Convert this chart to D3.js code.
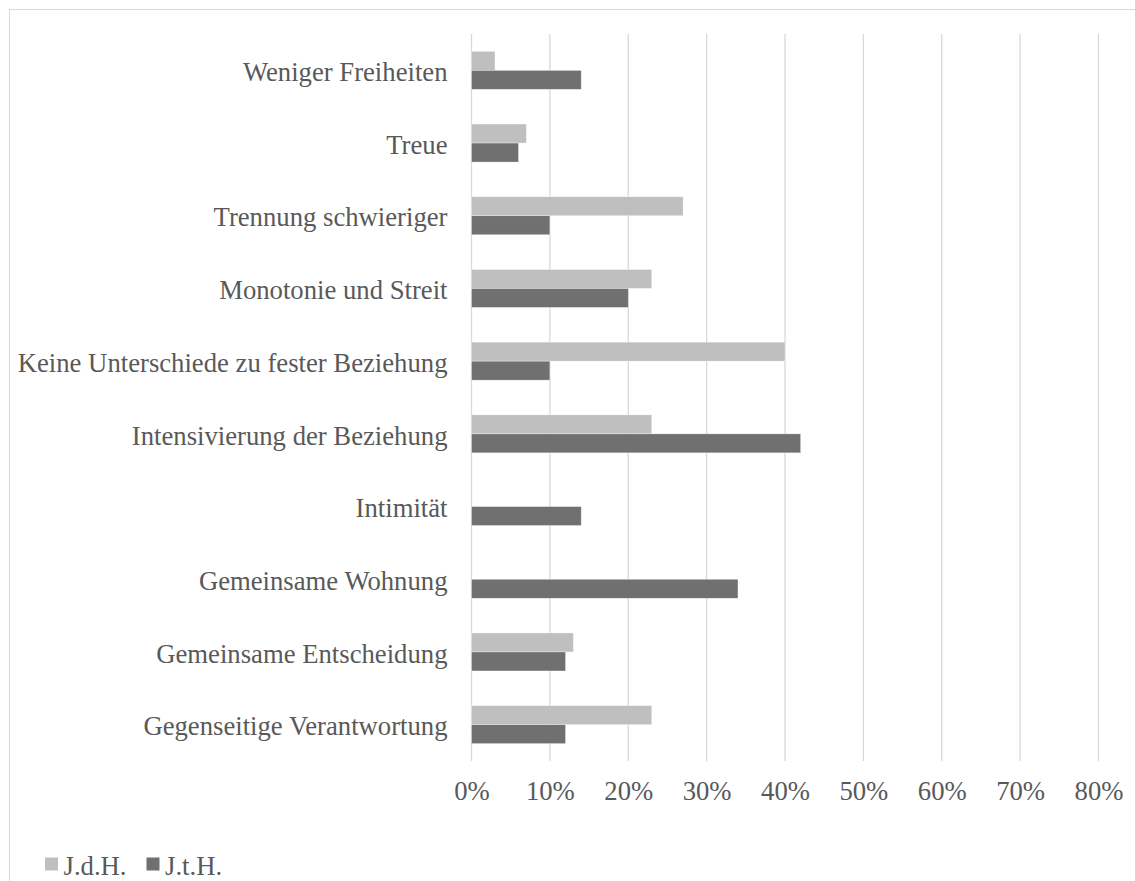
<!DOCTYPE html>
<html>
<head>
<meta charset="utf-8">
<script src="https://cdn.jsdelivr.net/npm/d3@7"></script>
<style>
  html, body { margin: 0; padding: 0; background: #fff; }
  svg { display: block; }
  text { font-family: "Liberation Serif", "Times New Roman", serif; fill: #595959; }
</style>
</head>
<body>
<svg id="chart" width="1135" height="881"></svg>
<script>
const categories = [
  "Weniger Freiheiten",
  "Treue",
  "Trennung schwieriger",
  "Monotonie und Streit",
  "Keine Unterschiede zu fester Beziehung",
  "Intensivierung der Beziehung",
  "Intimität",
  "Gemeinsame Wohnung",
  "Gemeinsame Entscheidung",
  "Gegenseitige Verantwortung"
];
const seriesNames = ["J.d.H.", "J.t.H."];
const jdh = [0.03, 0.07, 0.27, 0.23, 0.40, 0.23, 0, 0, 0.13, 0.23];
const jth = [0.14, 0.06, 0.10, 0.20, 0.10, 0.42, 0.14, 0.34, 0.12, 0.12];
const tickValues = [0, 0.1, 0.2, 0.3, 0.4, 0.5, 0.6, 0.7, 0.8];
const colors = ["#BFBFBF", "#707070"];

const FS = 26.7;
const svg = d3.select("#chart");

// outer frame
svg.append("rect")
  .attr("x", 9.5).attr("y", 9.5)
  .attr("width", 1135).attr("height", 900)
  .attr("fill", "none").attr("stroke", "#D9D9D9").attr("stroke-width", 1);

const x = d3.scaleLinear().domain([0, 0.8]).range([471.5, 1098.5]);
const y = d3.scaleBand().domain(categories).range([34, 761])
  .paddingInner(0.477).paddingOuter(0.2385);
const ySub = d3.scaleBand().domain(seriesNames).range([0, y.bandwidth()]);

// gridlines
svg.append("g").selectAll("line").data(tickValues).join("line")
  .attr("x1", d => x(d)).attr("x2", d => x(d))
  .attr("y1", 34).attr("y2", 761)
  .attr("stroke", "#D9D9D9").attr("stroke-width", 1.3);

// bars
const data = [jdh, jth];
data.forEach((vals, si) => {
  svg.append("g").selectAll("rect").data(categories).join("rect")
    .attr("x", x(0))
    .attr("y", (c) => y(c) + ySub(seriesNames[si]))
    .attr("width", (c, i) => Math.max(0, x(vals[i]) - x(0)))
    .attr("height", ySub.bandwidth())
    .attr("fill", colors[si])
    .attr("stroke", (c, i) => vals[i] > 0 ? "#ffffff" : "none")
    .attr("stroke-width", 0.6)
    .attr("stroke-opacity", 0.6);
});

// x axis labels
const xAxis = d3.axisBottom(x).tickValues(tickValues)
  .tickFormat(d3.format(".0%")).tickSize(0).tickPadding(0);
const gx = svg.append("g").attr("transform", "translate(0,799.5)").call(xAxis);
gx.select(".domain").remove();
gx.selectAll("text").attr("font-size", FS).attr("dy", "0")
  .style("font-family", "'Liberation Serif', serif").attr("fill", "#595959");

// y axis labels
const yAxis = d3.axisLeft(y).tickSize(0).tickPadding(24);
const gy = svg.append("g").attr("transform", `translate(${x(0)},0)`).call(yAxis);
gy.select(".domain").remove();
gy.selectAll("text").attr("font-size", FS).attr("dy", "0.4em")
  .style("font-family", "'Liberation Serif', serif").attr("fill", "#595959");

// legend
const legend = svg.append("g");
const legendX = [45, 146.5];
seriesNames.forEach((s, i) => {
  legend.append("rect").attr("x", legendX[i]).attr("y", 857.5)
    .attr("width", 13).attr("height", 13).attr("fill", colors[i]);
  legend.append("text").attr("x", legendX[i] + 18.5).attr("y", 875)
    .attr("font-size", FS).text(s);
});
</script>
</body>
</html>
